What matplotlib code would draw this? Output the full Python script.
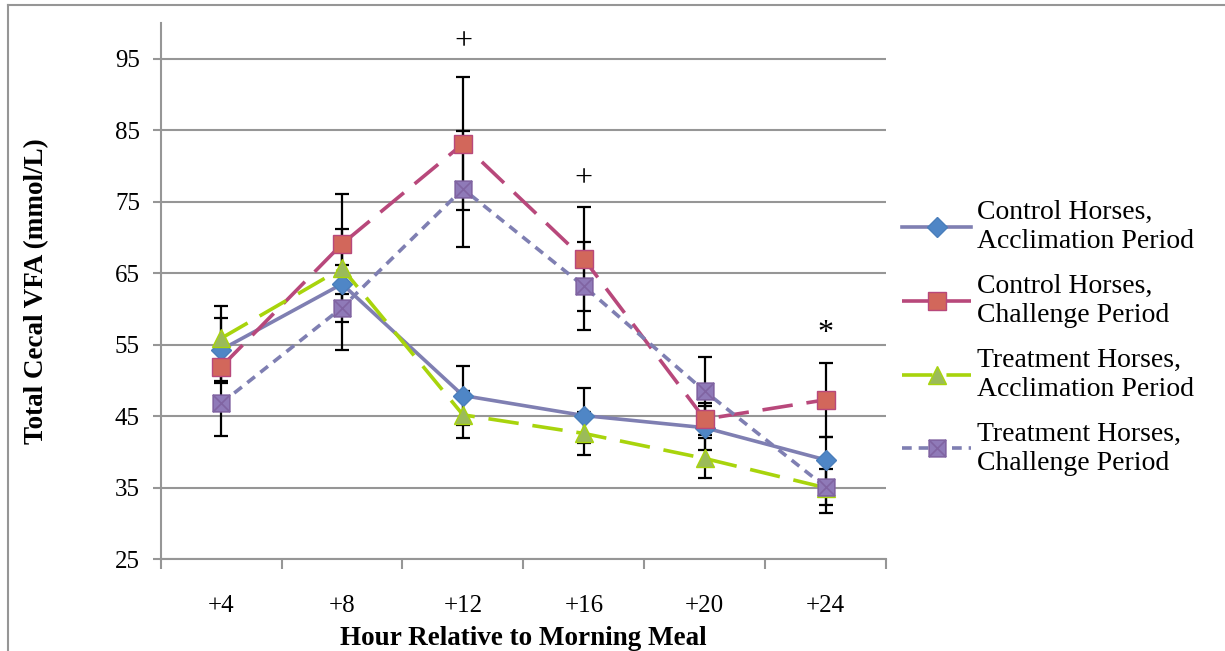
import matplotlib
matplotlib.use("Agg")
import matplotlib.pyplot as plt
import numpy as np
from matplotlib.path import Path
from matplotlib.lines import Line2D

plt.rcParams['font.family'] = ['Liberation Serif', 'DejaVu Serif']
plt.rcParams['lines.scale_dashes'] = False

# data
hours = ['+4', '+8', '+12', '+16', '+20', '+24']
ctrl_accl = [54.3, 63.5, 47.9, 45.1, 43.4, 38.9]
ctrl_accl_err = [4.4, 5.3, 4.1, 3.8, 3.1, 3.2]
ctrl_chal = [51.9, 69.1, 83.1, 67.0, 44.6, 47.3]
ctrl_chal_err = [2.3, 7.0, 9.3, 7.3, 2.2, 5.2]
trt_accl = [55.9, 65.7, 45.2, 42.6, 39.1, 35.0]
trt_accl_err = [4.5, 5.5, 3.3, 3.0, 2.8, 3.5]
trt_chal = [46.8, 60.2, 76.8, 63.2, 48.5, 35.1]
trt_chal_err = [4.6, 5.9, 8.1, 6.2, 4.8, 2.5]

# significance marks: (category index, y, symbol)
marks = [(2, 97.4, '+'), (3, 78.2, '+'), (5, 56.6, '*')]

# square with an x through it
xsquare = Path([(-1, -1), (1, -1), (1, 1), (-1, 1), (-1, -1),
                (-1, -1), (1, 1), (-1, 1), (1, -1)],
               [Path.MOVETO, Path.LINETO, Path.LINETO, Path.LINETO, Path.CLOSEPOLY,
                Path.MOVETO, Path.LINETO, Path.MOVETO, Path.LINETO])

series = [
    ("Control Horses,\nAcclimation Period", ctrl_accl, ctrl_accl_err,
     dict(color='#7F7FB2', ls='-', marker='D', ms=10, mfc='#4F86C6', mec='#4A7EBB')),
    ("Control Horses,\nChallenge Period", ctrl_chal, ctrl_chal_err,
     dict(color='#B8487B', dashes=(22, 10), marker='s', ms=12.5, mfc='#D2675B', mec='#B8487B')),
    ("Treatment Horses,\nAcclimation Period", trt_accl, trt_accl_err,
     dict(color='#A8D40C', dashes=(22, 10), marker='^', ms=13, mfc='#9BBB59', mec='#A8D40C')),
    ("Treatment Horses,\nChallenge Period", trt_chal, trt_chal_err,
     dict(color='#7F7FB2', dashes=(7, 5), marker=xsquare, ms=12, mfc='#8F7AB8', mec='#8064A2',
          mew=1.2)),
]

fig = plt.figure(figsize=(12.25, 6.51), dpi=100)
ax = fig.add_axes([0.1312, 0.1409, 0.5921, 0.8238])

x = np.arange(len(hours))
for label, vals, err, style in series:
    ax.errorbar(x, vals, yerr=err, fmt='none', ecolor='black', elinewidth=1.6,
                capsize=5, capthick=1.6, zorder=3)
for label, vals, err, style in series:
    ax.plot(x, vals, lw=2.6, label=label, zorder=4, **style)

for i, yv, s in marks:
    ax.text(i, yv, s, ha='center', va='center', fontsize=23, zorder=5)

ax.set_xlim(-0.5, len(hours) - 0.5)
ax.set_ylim(25, 100)
ax.set_yticks(np.arange(25, 96, 10))
ax.tick_params(axis='y', labelsize=18, direction='out', length=6, width=1.5,
               color='#969696', pad=9)
ax.set_xticks(np.arange(-0.5, len(hours)), labels=[])
ax.set_xticks(x, labels=hours, minor=True)
ax.tick_params(axis='x', which='major', direction='out', length=7, width=1.5, color='#969696')
ax.tick_params(axis='x', which='minor', length=0, labelsize=18, pad=26)
ax.grid(axis='y', color='#969696', lw=1.5)
ax.set_axisbelow(True)
for side in ['top', 'right']:
    ax.spines[side].set_visible(False)
for side in ['left', 'bottom']:
    ax.spines[side].set_color('#969696')
    ax.spines[side].set_linewidth(1.5)

ax.set_xlabel('Hour Relative to Morning Meal', fontsize=19.5, fontweight='bold', labelpad=6)
ax.set_ylabel('Total Cecal VFA (mmol/L)', fontsize=19.5, fontweight='bold', labelpad=47)

fig.legend(*ax.get_legend_handles_labels(), loc='center left',
           bbox_to_anchor=(877 / 1225, 1 - 338 / 651), frameon=False, fontsize=20,
           handlelength=2.5, handletextpad=0.2, labelspacing=0.72, numpoints=1,
           borderpad=0.4)

# frame fragment around the chart
fig.add_artist(Line2D([8 / 1225, 1], [1 - 4.7 / 651] * 2, color='#969696', lw=1.5))
fig.add_artist(Line2D([8 / 1225] * 2, [0, 1 - 4.7 / 651], color='#969696', lw=1.5))

fig.savefig('out.png', dpi=100)
